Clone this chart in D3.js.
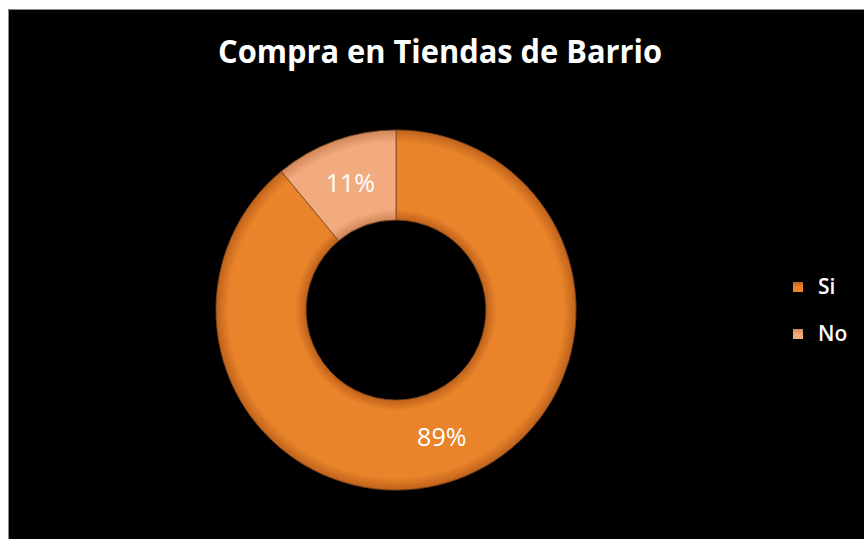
<!DOCTYPE html>
<html>
<head>
<meta charset="utf-8">
<script src="https://cdn.jsdelivr.net/npm/d3@7"></script>
<style>
  html, body { margin: 0; padding: 0; background: #ffffff; }
  svg { display: block; }
</style>
</head>
<body>
<div id="chart"></div>
<script>
(function () {
  'use strict';

  // ── Data ──
  var CATEGORIES = ['Si', 'No'];
  var VALUES = [89, 11];
  var LABELS = ['89%', '11%'];

  // ── Layout / style ──
  var W = 864, H = 539;
  var CX = 396, CY = 310;
  var OUTER_R = 180, INNER_R = 90;
  var FONT = 'Open Sans, sans-serif';
  var FILLS = {
    Si: { edge: '#c0621a', mid: '#e9842c' },
    No: { edge: '#d08659', mid: '#f2ab7e' }
  };

  var svg = d3.select('#chart').append('svg')
    .attr('width', W)
    .attr('height', H);

  // black plot area with white margin top/left
  svg.append('rect')
    .attr('x', 8).attr('y', 9)
    .attr('width', W - 8).attr('height', H - 9)
    .attr('fill', '#000000');
  svg.append('path')
    .attr('d', 'M8.5,' + H + 'V9.5H' + W)
    .attr('fill', 'none')
    .attr('stroke', '#8a8a8a')
    .attr('stroke-width', 1);

  var defs = svg.append('defs');

  // bevel-like radial gradients per category (centred on the donut group origin)
  CATEGORIES.forEach(function (c) {
    var grad = defs.append('radialGradient')
      .attr('id', 'grad-' + c)
      .attr('gradientUnits', 'userSpaceOnUse')
      .attr('cx', 0).attr('cy', 0).attr('r', OUTER_R);
    var f = FILLS[c];
    [[INNER_R / OUTER_R, f.edge], [INNER_R / OUTER_R + 0.06, f.mid],
     [0.93, f.mid], [1, f.edge]].forEach(function (s) {
      grad.append('stop').attr('offset', s[0]).attr('stop-color', s[1]);
    });
  });

  // legend swatch gradients
  CATEGORIES.forEach(function (c) {
    var lg = defs.append('linearGradient')
      .attr('id', 'sw-' + c)
      .attr('x1', 0).attr('y1', 0).attr('x2', 0).attr('y2', 1);
    lg.append('stop').attr('offset', 0).attr('stop-color', FILLS[c].edge);
    lg.append('stop').attr('offset', 0.5).attr('stop-color', FILLS[c].mid);
    lg.append('stop').attr('offset', 1).attr('stop-color', FILLS[c].mid);
  });

  var shadow = defs.append('filter').attr('id', 'shadow')
    .attr('x', '-20%').attr('y', '-20%').attr('width', '140%').attr('height', '140%');
  shadow.append('feGaussianBlur').attr('in', 'SourceAlpha').attr('stdDeviation', 4).attr('result', 'b');
  shadow.append('feOffset').attr('in', 'b').attr('dx', 2).attr('dy', 3).attr('result', 'o');
  shadow.append('feComponentTransfer').attr('in', 'o').attr('result', 'os')
    .append('feFuncA').attr('type', 'linear').attr('slope', 0.6);
  var m = shadow.append('feMerge');
  m.append('feMergeNode').attr('in', 'os');
  m.append('feMergeNode').attr('in', 'SourceGraphic');

  // ── Title ──
  svg.append('text')
    .attr('x', 440)
    .attr('y', 63)
    .attr('text-anchor', 'middle')
    .attr('fill', '#ffffff')
    .attr('font-family', FONT)
    .attr('font-weight', 'bold')
    .attr('font-size', '33px')
    .attr('textLength', 444)
    .attr('lengthAdjust', 'spacingAndGlyphs')
    .text('Compra en Tiendas de Barrio');

  // ── Donut ──
  var data = CATEGORIES.map(function (c, i) {
    return { cat: c, value: VALUES[i], label: LABELS[i] };
  });

  var pie = d3.pie().sort(null).value(function (d) { return d.value; });
  var arc = d3.arc().innerRadius(INNER_R).outerRadius(OUTER_R);
  var labelArc = d3.arc().innerRadius((INNER_R + OUTER_R) / 2).outerRadius((INNER_R + OUTER_R) / 2);

  var g = svg.append('g').attr('transform', 'translate(' + CX + ',' + CY + ')');
  var arcs = pie(data);

  g.append('g').attr('filter', 'url(#shadow)')
    .selectAll('path')
    .data(arcs)
    .join('path')
    .attr('d', arc)
    .attr('fill', function (d) { return 'url(#grad-' + d.data.cat + ')'; })
    .attr('stroke', '#7a4520')
    .attr('stroke-width', 0.8);

  g.selectAll('text.lbl')
    .data(arcs)
    .join('text')
    .attr('class', 'lbl')
    .attr('x', function (d) { return labelArc.centroid(d)[0]; })
    .attr('y', function (d) { return labelArc.centroid(d)[1]; })
    .attr('dy', '0.35em')
    .attr('text-anchor', 'middle')
    .attr('fill', '#ffffff')
    .attr('font-family', FONT)
    .attr('font-size', '25px')
    .text(function (d) { return d.data.label; });

  // ── Legend ──
  var legend = svg.append('g').attr('transform', 'translate(795,0)');
  var LEGEND_Y = [287, 334];

  var items = legend.selectAll('g')
    .data(data)
    .join('g')
    .attr('transform', function (d, i) { return 'translate(0,' + LEGEND_Y[i] + ')'; });

  items.append('rect')
    .attr('x', -2).attr('y', -5)
    .attr('width', 10).attr('height', 10)
    .attr('fill', function (d) { return 'url(#sw-' + d.cat + ')'; });

  items.append('text')
    .attr('x', 23)
    .attr('y', 0)
    .attr('dy', '0.35em')
    .attr('fill', '#ffffff')
    .attr('font-family', FONT)
    .attr('font-weight', 600)
    .attr('font-size', '21px')
    .text(function (d) { return d.cat; });
})();
</script>
</body>
</html>
